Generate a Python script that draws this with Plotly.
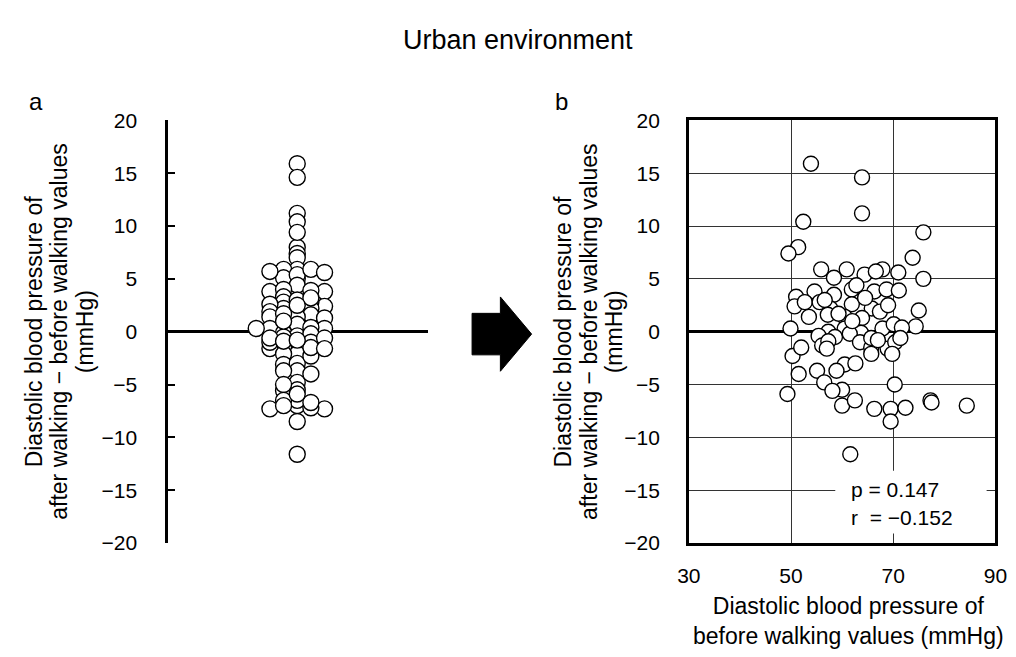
import plotly.graph_objects as go

# ---------------- data ----------------
title_text = "Urban environment"
panel_labels = ["a", "b"]
y_title_lines = ["Diastolic blood pressure of",
                 "after walking − before walking values",
                 "(mmHg)"]
x_title_b = "Diastolic blood pressure of<br>before walking values (mmHg)"

# diastolic BP before walking (mmHg)
before_bp = [53.9, 63.9, 63.9, 52.4, 51.4, 49.5, 75.9, 73.8, 75.9, 75.0, 74.4,
             55.9, 60.9, 58.4, 64.4, 67.9, 71.0, 66.6,
             54.6, 58.4, 61.9, 62.8, 66.3, 68.7, 71.1, 51.0, 50.7, 52.7,
             55.6, 57.7, 61.9, 65.8, 67.4, 57.2, 53.5, 60.5, 63.9,
             57.3, 60.5, 67.9, 70.1, 71.7, 63.7, 55.4, 58.6, 61.5,
             56.1, 63.5, 65.7, 65.7, 68.9, 70.4, 69.8, 71.4, 57.3,
             60.5, 62.6, 58.9, 55.1,
             56.5, 60.0, 58.1, 70.3,
             60.0, 62.5, 66.3, 69.5, 72.4, 69.5, 77.3, 77.5, 84.4,
             61.6, 49.9, 50.3, 52.0, 51.5, 49.3,
             59.3, 65.7, 56.6, 62.0, 67.0, 57.0, 64.5, 69.0]
# change in diastolic BP (after - before walking, mmHg)
change_dbp = [15.9, 14.6, 11.2, 10.4, 8.0, 7.4, 9.4, 7.0, 5.0, 2.0, 0.5,
              5.9, 5.9, 5.1, 5.4, 5.9, 5.6, 5.7,
              3.8, 3.5, 4.0, 4.4, 3.8, 4.0, 3.9, 3.3, 2.4, 2.8,
              2.8, 2.2, 2.6, 2.2, 1.9, 1.6, 1.4, 1.4, 1.3,
              0.0, 0.3, 0.3, 0.7, 0.4, -0.1, -0.4, -0.5, -0.2,
              -1.3, -1.0, -1.5, -2.1, -1.6, -1.0, -2.1, -0.6, -0.9,
              -3.1, -3.0, -3.7, -3.7,
              -4.8, -5.5, -5.6, -5.0,
              -7.0, -6.5, -7.3, -7.3, -7.2, -8.5, -6.5, -6.7, -7.0,
              -11.6, 0.3, -2.3, -1.5, -4.0, -5.9,
              1.7, -0.6, 3.0, 1.0, -0.8, -1.6, 3.2, 2.5]

y_ticks = [-20, -15, -10, -5, 0, 5, 10, 15, 20]
x_ticks_b = [30, 50, 70, 90]
p_text = "p = 0.147"
r_text = "r\u00a0 = −0.152"

# ---------------- layout helpers ----------------
W, H = 1016, 657
OFF = 8  # default page margin of the html body
def X(p):
    return (p - OFF) / W
def Y(p):
    return 1 - (p - OFF) / H

FONT = "Liberation Sans, Arial, sans-serif"

# deterministic column (dot-plot) layout for panel a
n = len(change_dbp)
order = sorted(range(n), key=lambda i: -change_dbp[i])
cols = {}
col_of = [0] * n
for i in order:
    for c in [0, -1, 1, -2, 2, -3, 3]:
        if all(abs(change_dbp[i] - change_dbp[j]) >= 0.4 for j in cols.get(c, [])):
            cols.setdefault(c, []).append(i)
            col_of[i] = c
            break
xa = [0.496 + 0.0526 * c for c in col_of]

marker_style = dict(color="white", line=dict(color="black", width=1.4))

fig = go.Figure()
fig.add_trace(go.Scatter(x=xa, y=change_dbp, mode="markers",
                         marker=dict(size=16, **marker_style),
                         xaxis="x", yaxis="y", showlegend=False))
fig.add_trace(go.Scatter(x=before_bp, y=change_dbp, mode="markers",
                         marker=dict(size=15, **marker_style),
                         xaxis="x2", yaxis="y2", showlegend=False))

ydom = [Y(550), Y(112)]
fig.update_layout(
    width=W, height=H, autosize=False,
    margin=dict(l=0, r=0, t=0, b=0),
    paper_bgcolor="white", plot_bgcolor="white",
    font=dict(family=FONT, size=21, color="black"),
    xaxis=dict(domain=[X(160), X(426)], range=[0, 1], visible=False),
    yaxis=dict(domain=ydom, range=[-20, 20], tickvals=y_ticks,
               showline=True, linecolor="black", linewidth=3,
               ticks="inside", ticklen=7, tickwidth=2, tickcolor="black",
               showgrid=False, zeroline=True, zerolinecolor="black",
               zerolinewidth=3, ticklabelstandoff=24,
               tickfont=dict(family=FONT, size=21)),
    xaxis2=dict(domain=[X(693), X(1007)], range=[30, 90], tickvals=x_ticks_b,
                anchor="y2", showline=True, mirror=True, linecolor="black",
                linewidth=2.5, ticks="", showgrid=True, gridcolor="#333333",
                gridwidth=1, zeroline=False, ticklabelstandoff=12,
                ticklabeloverflow="allow",
                tickfont=dict(family=FONT, size=21)),
    yaxis2=dict(domain=ydom, range=[-20, 20], tickvals=y_ticks, anchor="x2",
                showline=True, mirror=True, linecolor="black", linewidth=2.5,
                ticks="", showgrid=True, gridcolor="#333333", gridwidth=1,
                zeroline=True, zerolinecolor="black", zerolinewidth=3,
                ticklabelstandoff=22,
                tickfont=dict(family=FONT, size=21)),
)

# arrow between panels
arrow = [(471, 312), (500, 312), (500, 295), (532, 333.5), (500, 372),
         (500, 355), (471, 355)]
path = "M " + " L ".join(f"{X(a):.5f},{Y(b):.5f}" for a, b in arrow) + " Z"
fig.add_shape(type="path", path=path, xref="paper", yref="paper",
              fillcolor="black", line=dict(color="black", width=1))

# white box behind statistics text
fig.add_shape(type="rect", xref="paper", yref="paper",
              x0=X(843), x1=X(998), y0=Y(540), y1=Y(475),
              fillcolor="white", line=dict(width=0), layer="above")

ann = []
ann.append(dict(text=title_text, x=X(518), y=Y(29), xref="paper", yref="paper",
                showarrow=False, xanchor="center", yanchor="middle",
                font=dict(family=FONT, size=27)))
ann.append(dict(text=panel_labels[0], x=X(24), y=Y(92), xref="paper", yref="paper",
                showarrow=False, xanchor="center", yanchor="middle",
                font=dict(family=FONT, size=24)))
ann.append(dict(text=panel_labels[1], x=X(563), y=Y(92), xref="paper", yref="paper",
                showarrow=False, xanchor="center", yanchor="middle",
                font=dict(family=FONT, size=24)))
for centers in ((22, 48, 74), (564, 590, 616)):
    for cx, line in zip(centers, y_title_lines):
        ann.append(dict(text=line, x=X(cx), y=Y(331), xref="paper", yref="paper",
                        showarrow=False, textangle=-90, xanchor="center",
                        yanchor="middle", align="center",
                        font=dict(family=FONT, size=23)))
ann.append(dict(text=x_title_b, x=X(857), y=Y(631), xref="paper", yref="paper",
                showarrow=False, xanchor="center", yanchor="middle",
                align="center", font=dict(family=FONT, size=23)))
ann.append(dict(text=p_text, x=X(857), y=Y(495), xref="paper", yref="paper",
                showarrow=False, xanchor="left", yanchor="middle",
                font=dict(family=FONT, size=21)))
ann.append(dict(text=r_text, x=X(857), y=Y(524), xref="paper", yref="paper",
                showarrow=False, xanchor="left", yanchor="middle",
                font=dict(family=FONT, size=21)))
fig.update_layout(annotations=ann)

fig.write_html("out.html")
